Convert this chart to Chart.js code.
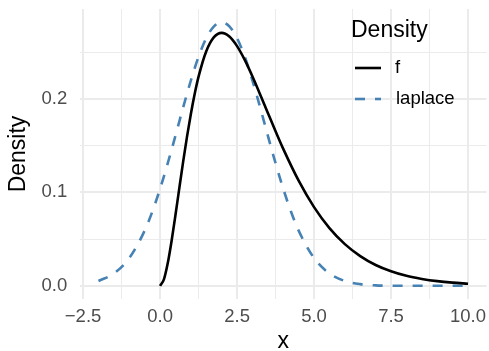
<!DOCTYPE html>
<html>
<head>
<meta charset="utf-8">
<script src="https://cdn.jsdelivr.net/npm/chart.js@4"></script>
<style>
html,body{margin:0;padding:0;background:#fff;}
#wrap{width:489px;height:351px;position:relative;}
</style>
</head>
<body>
<div id="wrap"><canvas id="c" width="489" height="351"></canvas></div>
<script>
// ---- data ----
const seriesNames = ["f", "laplace"];
const fX = [0, 0.125, 0.25, 0.375, 0.5, 0.625, 0.75, 0.875, 1, 1.125, 1.25, 1.5, 1.75, 2, 2.25, 2.5, 2.75, 3, 3.25, 3.5, 3.75, 4, 4.5, 5, 5.5, 6, 6.5, 7, 7.5, 8, 8.5, 9, 9.5, 10];
const fY = [0, 0.0069, 0.0243, 0.0483, 0.0758, 0.1046, 0.1329, 0.1596, 0.1839, 0.2055, 0.2238, 0.2510, 0.2661, 0.2707, 0.2668, 0.2565, 0.2417, 0.2240, 0.2048, 0.1850, 0.1654, 0.1465, 0.1125, 0.0842, 0.0618, 0.0446, 0.0318, 0.0223, 0.0156, 0.0107, 0.0074, 0.0050, 0.0034, 0.0023];
const lapX = [-2, -1.5, -1, -0.5, -0.25, 0, 0.25, 0.5, 0.75, 1, 1.25, 1.5, 1.75, 2, 2.25, 2.5, 2.75, 3, 3.25, 3.5, 3.75, 4, 4.25, 4.5, 5, 5.5, 6, 6.5, 7, 7.5, 8, 9, 10];
const lapY = [0.0052, 0.0132, 0.0297, 0.0591, 0.0796, 0.1038, 0.1312, 0.1607, 0.1909, 0.2197, 0.2451, 0.2650, 0.2777, 0.2821, 0.2777, 0.2650, 0.2451, 0.2197, 0.1909, 0.1607, 0.1312, 0.1038, 0.0796, 0.0591, 0.0297, 0.0132, 0.0052, 0.0018, 0.0005, 0.0001, 0.0000, 0.0000, 0.0000];
const xTickValues = [-2.5, 0, 2.5, 5, 7.5, 10];
const xTickLabels = ["\u22122.5", "0.0", "2.5", "5.0", "7.5", "10.0"];
const xMinorValues = [-1.25, 1.25, 3.75, 6.25, 8.75];
const yTickValues = [0, 0.1, 0.2];
const yTickLabels = ["0.0", "0.1", "0.2"];
const yMinorValues = [0.05, 0.15, 0.25];
const xTitle = "x";
const yTitle = "Density";
const legendTitle = "Density";

// ---- styling ----
const FONT = "'Liberation Sans', Arial, Helvetica, sans-serif";
const TICK_SIZE = 18.5;
const TITLE_SIZE = 23;
const BLUE = "#4682B4";
const GRID = "#EBEBEB";
const LINE_W = 2.6;
const DASH = [10, 10];

function toPts(xs, ys){ return xs.map((x,i)=>({x:x, y:ys[i]})); }
function isMajor(list, v){ return list.some(t => Math.abs(t - v) < 1e-9); }

const legendPlugin = {
  id: 'insideLegend',
  afterDraw(chart){
    const ctx = chart.ctx;
    ctx.save();
    ctx.fillStyle = '#000';
    ctx.textAlign = 'left';
    ctx.textBaseline = 'alphabetic';
    ctx.font = TITLE_SIZE + 'px ' + FONT;
    ctx.fillText(legendTitle, 351, 36.5);
    ctx.lineWidth = LINE_W;
    ctx.strokeStyle = '#000';
    ctx.setLineDash([]);
    ctx.beginPath(); ctx.moveTo(355, 68); ctx.lineTo(381, 68); ctx.stroke();
    ctx.strokeStyle = BLUE;
    ctx.setLineDash(DASH);
    ctx.beginPath(); ctx.moveTo(355, 99); ctx.lineTo(381, 99); ctx.stroke();
    ctx.setLineDash([]);
    ctx.font = TICK_SIZE + 'px ' + FONT;
    ctx.textBaseline = 'middle';
    ctx.fillStyle = '#000';
    ctx.fillText(seriesNames[0], 395, 68);
    ctx.fillText(seriesNames[1], 396, 99);
    ctx.restore();
  }
};

new Chart(document.getElementById('c'), {
  type: 'scatter',
  data: {
    datasets: [
      { label: seriesNames[0], data: toPts(fX, fY), showLine: true, borderColor: '#000', borderWidth: LINE_W,
        pointRadius: 0, cubicInterpolationMode: 'monotone', fill: false, order: 1 },
      { label: seriesNames[1], data: toPts(lapX, lapY), showLine: true, borderColor: BLUE, borderWidth: LINE_W,
        borderDash: DASH, pointRadius: 0, cubicInterpolationMode: 'monotone', fill: false, order: 2 }
    ]
  },
  options: {
    responsive: false,
    animation: false,
    devicePixelRatio: 1,
    layout: { padding: { left: 0, right: 2.5, top: 9, bottom: 0 } },
    plugins: { legend: { display: false }, tooltip: { enabled: false } },
    scales: {
      x: {
        type: 'linear', min: -2.6, max: 10.6,
        afterBuildTicks(scale){ scale.ticks = xTickValues.concat(xMinorValues).sort((a,b)=>a-b).map(v=>({value:v})); },
        afterFit(scale){ scale.height = 52; scale.paddingLeft = 0; scale.paddingRight = 0; },
        ticks: {
          autoSkip: false, maxRotation: 0, padding: 6.4, color: '#4D4D4D',
          font: { family: FONT, size: TICK_SIZE },
          callback(v){ const i = xTickValues.findIndex(t => Math.abs(t - v) < 1e-9); return i >= 0 ? xTickLabels[i] : ''; }
        },
        grid: { color: GRID, drawTicks: false,
          lineWidth: (c) => (c.tick && isMajor(xTickValues, c.tick.value)) ? 2 : 1 },
        border: { display: false },
        title: { display: true, text: xTitle, color: '#000', font: { family: FONT, size: TITLE_SIZE, lineHeight: 0.78 }, padding: 0 }
      },
      y: {
        type: 'linear', min: -0.0141, max: 0.2962,
        afterBuildTicks(scale){ scale.ticks = yTickValues.concat(yMinorValues).sort((a,b)=>a-b).map(v=>({value:v})); },
        afterFit(scale){ scale.width = 80; scale.paddingTop = 0; scale.paddingBottom = 0; },
        ticks: {
          autoSkip: false, padding: 12.7, color: '#4D4D4D',
          font: { family: FONT, size: TICK_SIZE },
          callback(v){ const i = yTickValues.findIndex(t => Math.abs(t - v) < 1e-9); return i >= 0 ? yTickLabels[i] : ''; }
        },
        grid: { color: GRID, drawTicks: false,
          lineWidth: (c) => (c.tick && isMajor(yTickValues, c.tick.value)) ? 2 : 1 },
        border: { display: false },
        title: { display: true, text: yTitle, color: '#000', font: { family: FONT, size: TITLE_SIZE }, padding: { top: 4.5, bottom: 0 } }
      }
    }
  },
  plugins: [legendPlugin]
});
</script>
</body>
</html>
